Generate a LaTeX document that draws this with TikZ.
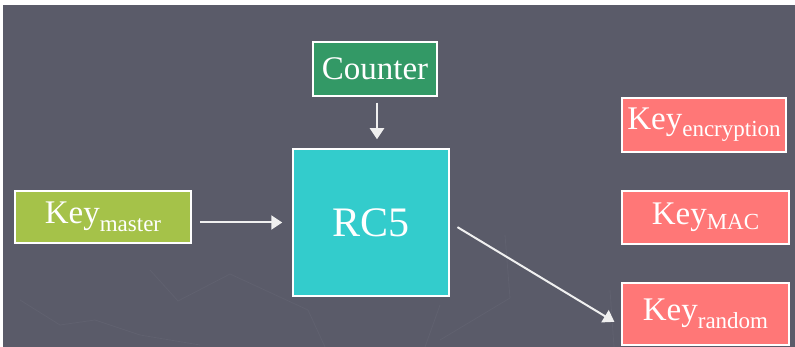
\documentclass[tikz,border=0pt]{standalone}
\usepackage{fontspec}
\setmainfont{Liberation Serif}
\usetikzlibrary{arrows.meta}

\definecolor{slate}{HTML}{5A5B69}
\definecolor{slateline}{HTML}{60616F}
\definecolor{ctrgreen}{HTML}{339966}
\definecolor{rccyan}{HTML}{33CCCC}
\definecolor{mastergreen}{HTML}{A5C249}
\definecolor{keypink}{HTML}{FF7777}

% "Key" with a lowered subscript
\newcommand{\keylabel}[2][8pt]{Key\raisebox{-#1}{\fontsize{23}{23}\selectfont #2}}

\tikzset{
  blockbox/.style={draw=white, line width=1.5pt, inner sep=0pt, text=white,
                   font=\fontsize{33}{36}\selectfont},
  arr/.style={draw=white!94!black, line width=2pt,
              -{Triangle[width=14pt,length=11pt]}},
  texture/.style={draw=slateline, line width=0.8pt},
}

\begin{document}
\begin{tikzpicture}[x=1pt,y=-1pt]
  \useasboundingbox (0,0) rectangle (795,347);
  \fill[white] (0,0) rectangle (795,347);
  \fill[slate] (3,5) rectangle (795,347);

  % faint background texture
  \draw[texture] (20,300) -- (60,325) -- (95,320) -- (140,335) -- (200,345);
  \draw[texture] (150,270) -- (178,301) -- (230,274) -- (308,310) -- (325,347);
  \draw[texture] (440,305) -- (425,347);
  \draw[texture] (505,235) -- (510,298) -- (440,340);
  \draw[texture] (610,290) -- (614,347);

  % blocks
  \node[blockbox, fill=ctrgreen, minimum width=124pt, minimum height=54pt]
       (counter) at (375,69) {Counter};
  \node[blockbox, fill=rccyan, minimum width=156pt, minimum height=147pt,
        font=\fontsize{42}{44}\selectfont]
       (rc5) at (371,222.5) {RC5};
  \node[blockbox, fill=mastergreen, minimum width=176pt, minimum height=52pt]
       (master) at (103,217) {\keylabel{master}};
  \node[blockbox, fill=keypink, minimum width=164pt, minimum height=54pt]
       (kenc) at (704,125) {\keylabel[7pt]{encryption}};
  \node[blockbox, fill=keypink, minimum width=167pt, minimum height=53pt]
       (kmac) at (705.5,217.5) {\keylabel[5pt]{MAC}};
  \node[blockbox, fill=keypink, minimum width=167pt, minimum height=62pt]
       (krand) at (705.5,314) {\keylabel{random}};

  % connectors
  \draw[arr, shorten <=6pt, shorten >=9pt]
       ([xshift=2pt]counter.south) -- ([xshift=2pt]counter.south |- rc5.north);
  \draw[arr, shorten <=8pt, shorten >=10pt]
       (master.east |- rc5.west) -- (rc5.west);
  \draw[arr, shorten <=9pt, shorten >=8pt]
       (rc5.east) -- ([yshift=-12pt]krand.west);
\end{tikzpicture}
\end{document}
